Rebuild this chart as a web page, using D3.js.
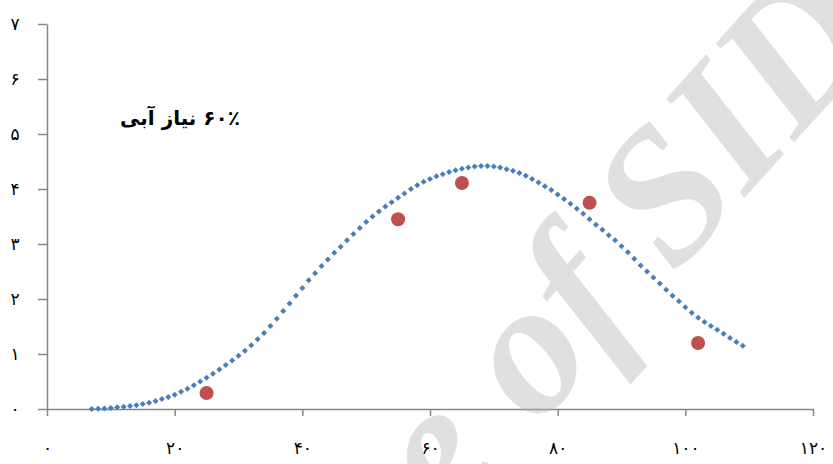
<!DOCTYPE html>
<html>
<head>
<meta charset="utf-8">
<script src="https://cdn.jsdelivr.net/npm/d3@7"></script>
<style>
  body { margin: 0; background: #fff; }
  svg { display: block; }
</style>
</head>
<body>
<div class="chart"></div>
<script>
// observed points (red)
let obsX = [25, 55, 65, 85, 102];
let obsY = [0.29, 3.45, 4.11, 3.75, 1.2];

// fitted curve, one marker per unit of x (blue)
let fitX = d3.range(7, 110);
let fitY = [
  0.00, 0.005, 0.01, 0.02, 0.03, 0.04, 0.055, 0.07, 0.09, 0.115,
  0.145, 0.18, 0.22, 0.26, 0.315, 0.37, 0.43, 0.50, 0.57, 0.64,
  0.72, 0.80, 0.88, 0.97, 1.06, 1.16, 1.27, 1.38, 1.51, 1.64,
  1.78, 1.92, 2.06, 2.20, 2.34, 2.47, 2.60, 2.72, 2.84, 2.95,
  3.07, 3.18, 3.29, 3.40, 3.50, 3.59, 3.68, 3.76, 3.84, 3.92,
  4.00, 4.07, 4.13, 4.18, 4.23, 4.27, 4.31, 4.34, 4.37, 4.39,
  4.41, 4.42, 4.42, 4.41, 4.39, 4.36, 4.33, 4.29, 4.24, 4.18,
  4.12, 4.05, 3.98, 3.90, 3.82, 3.73, 3.64, 3.55, 3.45, 3.35,
  3.26, 3.16, 3.07, 2.96, 2.85, 2.73, 2.61, 2.50, 2.39, 2.28,
  2.17, 2.06, 1.96, 1.85, 1.75, 1.66, 1.58, 1.51, 1.44, 1.37,
  1.29, 1.22, 1.15
];

let xTicks = [0, 20, 40, 60, 80, 100, 120];
let xTickLabels = ['۰', '۲۰', '۴۰', '۶۰', '۸۰', '۱۰۰', '۱۲۰'];
let yTicks = [0, 1, 2, 3, 4, 5, 6, 7];
let yTickLabels = ['۰', '۱', '۲', '۳', '۴', '۵', '۶', '۷'];

let title = '۶۰٪ نیاز آبی';
let watermark = ['Archive', 'of SID'];

let width = 833;
let height = 464;

let svg = d3.select('div.chart').append('svg')
  .attr('width', width)
  .attr('height', height);

let x = d3.scaleLinear().domain([0, 120]).range([47, 813]);
let y = d3.scaleLinear().domain([0, 7]).range([409, 24]);

let axisColor = '#868686';
let labelFont = '"DejaVu Sans", sans-serif';

// y axis
let yAxis = svg.append('g')
  .attr('transform', 'translate(' + x(0) + ',0)')
  .call(d3.axisLeft(y)
    .tickValues(yTicks)
    .tickSize(9)
    .tickSizeOuter(0)
    .tickFormat((d, i) => yTickLabels[i]));
yAxis.select('.domain').attr('stroke', axisColor).attr('stroke-width', 1.5);
yAxis.selectAll('.tick line').attr('stroke', axisColor).attr('stroke-width', 1.5);
yAxis.selectAll('.tick text')
  .attr('x', 15 - x(0))
  .attr('text-anchor', 'middle')
  .attr('fill', '#000')
  .style('font-family', labelFont)
  .style('font-size', '17px');

// x axis
let xAxis = svg.append('g')
  .attr('transform', 'translate(0,' + y(0) + ')')
  .call(d3.axisBottom(x)
    .tickValues(xTicks)
    .tickSize(7)
    .tickSizeOuter(0)
    .tickFormat((d, i) => xTickLabels[i]));
xAxis.select('.domain').attr('stroke', axisColor).attr('stroke-width', 1.5);
xAxis.selectAll('.tick line').attr('stroke', axisColor).attr('stroke-width', 1.5);
xAxis.selectAll('.tick text')
  .attr('y', 39)
  .attr('dy', '0.35em')
  .attr('fill', '#000')
  .style('font-family', labelFont)
  .style('font-size', '17px');

// fitted curve markers
let diamond = d3.symbol().type(d3.symbolSquare).size(18);
svg.append('g').selectAll('path')
  .data(fitX)
  .enter()
  .append('path')
  .attr('d', diamond)
  .attr('transform', (d, i) => 'translate(' + x(d) + ',' + y(fitY[i]) + ')rotate(45)')
  .attr('fill', '#4a7ebb');

// observed points
svg.append('g').selectAll('circle')
  .data(obsX)
  .enter()
  .append('circle')
  .attr('cx', d => x(d))
  .attr('cy', (d, i) => y(obsY[i]))
  .attr('r', 7)
  .attr('fill', '#c0504d');

// title
svg.append('text')
  .attr('x', 180)
  .attr('y', 125)
  .attr('direction', 'rtl')
  .attr('text-anchor', 'middle')
  .style('font-family', labelFont)
  .style('font-weight', 'bold')
  .style('font-size', '20px')
  .text(title);

// watermark
let wm = svg.append('g')
  .attr('transform', 'translate(537,428)rotate(-48)')
  .style('font-family', '"Liberation Serif", serif')
  .style('font-weight', 'bold')
  .style('font-style', 'italic')
  .style('font-size', '190px')
  .attr('fill', '#b4b4b4')
  .attr('fill-opacity', 0.42);
wm.append('text')
  .attr('x', -48)
  .attr('text-anchor', 'end')
  .text(watermark[0]);
wm.append('text')
  .attr('x', 0)
  .attr('text-anchor', 'start')
  .text(watermark[1]);
</script>
</body>
</html>
